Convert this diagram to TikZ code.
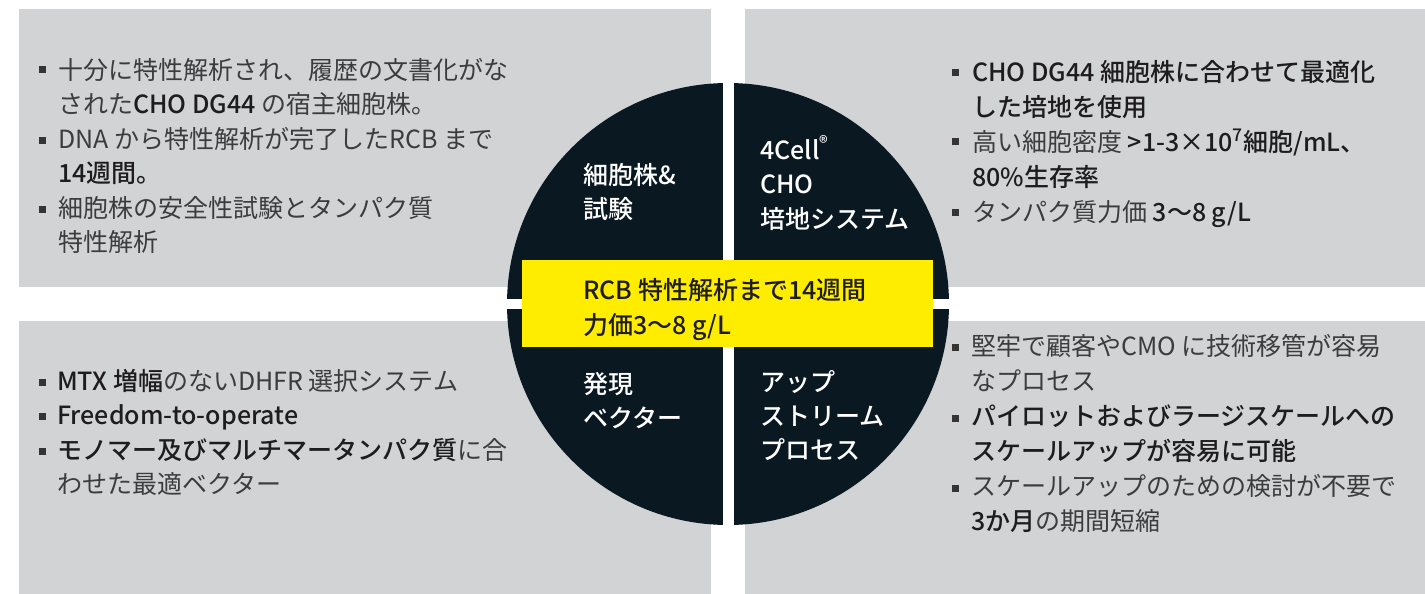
\documentclass[tikz,border=0pt]{standalone}
\usepackage{fontspec}
\setmainfont{Noto Sans CJK JP}[BoldFont={Noto Sans CJK JP Medium}]
\usepackage{xcolor}
\usepackage{tikz}
\definecolor{boxgray}{HTML}{D1D3D4}
\definecolor{navy}{HTML}{0A1822}
\definecolor{lemon}{HTML}{FFED00}
\definecolor{ink}{HTML}{3C3C3C}
\definecolor{inkdark}{HTML}{1E1C1D}
\newcommand{\boldpart}[1]{\textcolor{inkdark}{\bfseries #1}}
\tikzset{
	panel/.style={fill=boxgray,draw=none},
	bullet/.style={shape=rectangle,fill=inkdark!90,draw=none,minimum size=7pt,inner sep=0pt},
	txt/.style={anchor=base west,align=left,inner sep=0pt,text=ink,font=\fontsize{25}{34.5}\selectfont},
	lbl/.style={txt,text=white,font=\fontsize{25}{34}\selectfont\bfseries},
}

\begin{document}
\begin{tikzpicture}[x=1pt,y=-1pt]
	\useasboundingbox (0,0) rectangle (1425,594);
	% panels
	\fill[panel] (19,9) rectangle (711,287);
	\fill[panel] (745,9) rectangle (1425,287);
	\fill[panel] (19,321) rectangle (711,594);
	\fill[panel] (745,321) rectangle (1425,594);
	% disc split in four
	\fill[navy] (728,304) circle (221);
	\fill[white] (722.5,80) rectangle (733.5,528);
	\fill[white] (504,299) rectangle (952,309);
	\node (rcb) at(522,260)[shape=rectangle,fill=lemon,anchor=north west,minimum width=411pt,minimum height=87pt,inner sep=0pt]{};
	% bullets
	\foreach \x/\y [count=\i] in {42/70,42/140,42/209,955/73,955/141,955/212,42/382,42/416,42/451,955/347,955/418,955/488}{
		\node (bul\i) at(\x,\y)[bullet]{};
	}
	% panel texts (anchored on the last line)
	\node (tltext) at(58,251.5)[txt]{十分に特性解析され、履歴の文書化がな\\された\boldpart{CHO DG44} の宿主細胞株。\\DNA から特性解析が完了したRCB まで\\\boldpart{14週間。}\\細胞株の安全性試験とタンパク質\\特性解析};
	\node (trtext) at(972,221)[txt,font=\fontsize{25}{35}\selectfont]{\boldpart{CHO DG44 細胞株に合わせて最適化}\\\boldpart{した培地を使用}\\高い細胞密度 \boldpart{>1-3×10\textsuperscript{7}細胞/mL、}\\\boldpart{80\%生存率}\\タンパク質力価 \boldpart{3〜8 g/L}};
	\node (bltext) at(57,493.5)[txt]{\boldpart{MTX 増幅}のないDHFR 選択システム\\\boldpart{Freedom-to-operate}\\\boldpart{モノマー及びマルチマータンパク質}に合\\わせた最適ベクター};
	\node (brtext) at(971,530)[txt,font=\fontsize{25}{35}\selectfont]{堅牢で顧客やCMO に技術移管が容易\\なプロセス\\\boldpart{パイロットおよびラージスケールへの}\\\boldpart{スケールアップが容易に可能}\\スケールアップのための検討が不要で\\\boldpart{3か月}の期間短縮};
	% disc labels
	\node (cell) at(583,218)[lbl]{細胞株\&\\試験};
	\node (media) at(760,228)[lbl,font=\fontsize{25}{34.5}\selectfont\bfseries]{4Cell\textsuperscript{®}\\CHO\\培地システム};
	\node (vector) at(583,427)[lbl]{発現\\ベクター};
	\node (process) at(760,459)[lbl]{アップ\\ストリーム\\プロセス};
	\node (rcbtext) at(583,334)[txt,text=inkdark,font=\fontsize{25}{35}\selectfont\bfseries]{RCB 特性解析まで14週間\\力価3〜8 g/L};
\end{tikzpicture}
\end{document}
